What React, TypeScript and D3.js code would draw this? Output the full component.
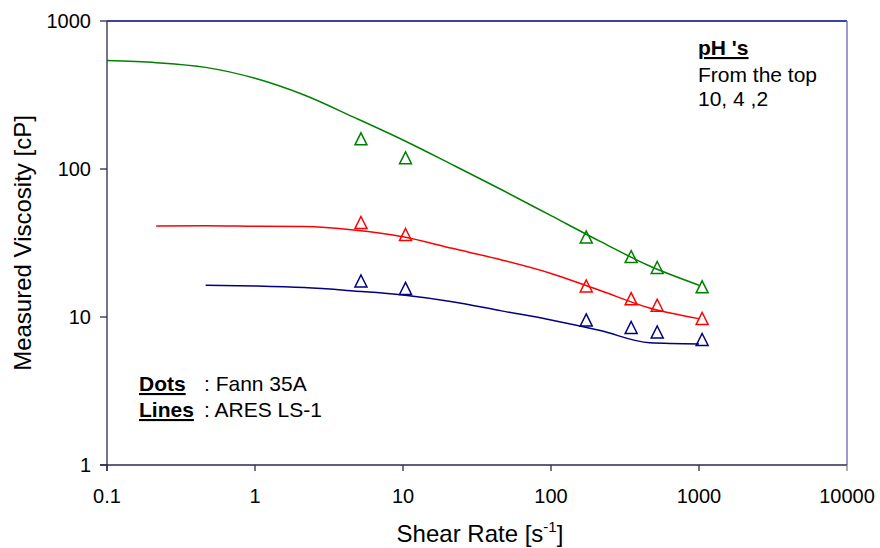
import React from "react";
import * as d3 from "d3";

// X ticks (shear rate, log) and Y ticks (viscosity, log)
const xTicks = [0.1, 1, 10, 100, 1000, 10000];
const yTicks = [1, 10, 100, 1000];

// Fann 35A dial readings (markers)
const fannRates = [5.2, 10.4, 173, 348, 522, 1050];
const fannPH10 = [160, 119, 34.7, 25.6, 21.6, 16.0];
const fannPH4 = [43.5, 36.1, 16.2, 13.3, 12.0, 9.77];
const fannPH2 = [17.5, 15.6, 9.55, 8.49, 7.92, 7.05];

// ARES LS-1 curves (lines)
const aresRates = [0.1, 0.215, 0.464, 1, 2.15, 4.64, 10, 21.5, 46.4, 100, 215, 464, 1000];
const aresPH10 = [540, 523, 486, 410, 316, 224, 157, 107, 72.4, 48.4, 32.4, 22.1, 16.4];
const aresPH4 = [null, 41.2, 41.3, 41.0, 40.8, 38.7, 34.9, 29.1, 24.3, 19.7, 15.1, 11.5, 9.75];
const aresPH2 = [null, null, 16.4, 16.2, 15.8, 15.0, 14.1, 12.7, 11.0, 9.55, 8.1, 6.7, 6.58];

const seriesColors = ["#008000", "#FF0000", "#000080"];

const W = 880;
const H = 548;
const L = 107;
const R = 847;
const T = 21;
const B = 465;
const FONT = "'Liberation Sans', Arial, sans-serif";

export default function App() {
  const x = d3.scaleLog().domain([0.1, 10000]).range([L, R]);
  const y = d3.scaleLog().domain([1, 1000]).range([B, T]);

  const lineGen = d3
    .line<[number, number | null]>()
    .defined((d) => d[1] != null)
    .x((d) => x(d[0]))
    .y((d) => y(d[1] as number))
    .curve(d3.curveMonotoneX);

  const lines = [aresPH10, aresPH4, aresPH2].map((vals) =>
    lineGen(aresRates.map((r, i) => [r, vals[i]] as [number, number | null]))
  );
  const markers = [fannPH10, fannPH4, fannPH2];

  const tri = (cx: number, cy: number) => {
    const s = 6;
    return `M${cx},${cy - s}L${cx + s},${cy + s}L${cx - s},${cy + s}Z`;
  };

  return (
    <svg
      width={W}
      height={H}
      style={{ position: "absolute", left: 0, top: 0, background: "#fff" }}
      fontFamily={FONT}
    >
      <rect x={0} y={0} width={W} height={H} fill="#fff" />
      {/* frame */}
      <line x1={L} x2={R} y1={T} y2={T} stroke="#000080" strokeWidth={1.3} />
      <line x1={R} x2={R} y1={T} y2={B} stroke="#7b7bc4" strokeWidth={1.5} />
      <line x1={L - 7} x2={R} y1={B} y2={B} stroke="#2a2a4a" strokeWidth={1.3} />
      <line x1={L} x2={L} y1={T} y2={B + 6} stroke="#2a2a4a" strokeWidth={1.3} />

      {/* y ticks */}
      {yTicks.map((t) => (
        <g key={"y" + t}>
          <line x1={L - 7} x2={L} y1={y(t)} y2={y(t)} stroke="#2a2a4a" strokeWidth={1.3} />
          <text x={91} y={y(t) + 7} textAnchor="end" fontSize={20} fill="#000">
            {String(t)}
          </text>
        </g>
      ))}
      {/* x ticks */}
      {xTicks.map((t) => (
        <g key={"x" + t}>
          <line x1={x(t)} x2={x(t)} y1={B} y2={B + 6} stroke={t === 10000 ? "#808080" : "#2a2a4a"} strokeWidth={1.3} />
          <text x={x(t)} y={503} textAnchor="middle" fontSize={20} fill="#000">
            {String(t)}
          </text>
        </g>
      ))}

      {/* axis titles */}
      <text x={480} y={542} textAnchor="middle" fontSize={24} fill="#000">
        Shear Rate [s
        <tspan fontSize={15} dy={-10}>-1</tspan>
        <tspan dy={10}>]</tspan>
      </text>
      <text
        transform={`translate(31,${(T + B) / 2}) rotate(-90)`}
        textAnchor="middle"
        fontSize={24}
        fill="#000"
      >
        Measured Viscosity [cP]
      </text>

      {/* curves */}
      {lines.map((d, i) => (
        <path key={"l" + i} d={d || ""} fill="none" stroke={seriesColors[i]} strokeWidth={1.5} />
      ))}
      {/* markers */}
      {markers.map((vals, i) =>
        vals.map((v, j) => (
          <path
            key={"m" + i + "-" + j}
            d={tri(x(fannRates[j]), y(v))}
            fill="none"
            stroke={seriesColors[i]}
            strokeWidth={1.5}
          />
        ))
      )}

      {/* annotations */}
      <text x={698} y={55} fontSize={21} fontWeight="bold" textDecoration="underline" fill="#000">
        pH 's
      </text>
      <text x={698} y={82} fontSize={21} fill="#000">From the top</text>
      <text x={698} y={106} fontSize={21} fill="#000">10, 4 ,2</text>

      <text x={139} y={391} fontSize={21} fontWeight="bold" textDecoration="underline" fill="#000">
        Dots
      </text>
      <text x={204} y={391} fontSize={21} fill="#000">: Fann 35A</text>
      <text x={139} y={417} fontSize={21} fontWeight="bold" textDecoration="underline" fill="#000">
        Lines
      </text>
      <text x={204} y={417} fontSize={21} fill="#000">: ARES LS-1</text>
    </svg>
  );
}
